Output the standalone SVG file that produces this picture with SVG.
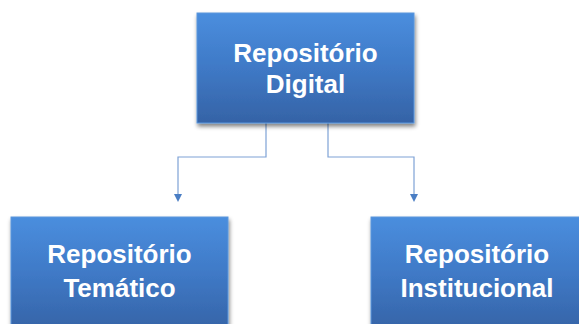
<svg xmlns="http://www.w3.org/2000/svg" width="579" height="324" viewBox="0 0 579 324">
<defs>
<linearGradient id="g" x1="0" y1="0" x2="0" y2="1">
<stop offset="0" stop-color="#4a8ede"/>
<stop offset="0.5" stop-color="#3f79c6"/>
<stop offset="1" stop-color="#3563a6"/>
</linearGradient>
<filter id="sh" x="-10%" y="-10%" width="120%" height="130%">
<feGaussianBlur in="SourceAlpha" stdDeviation="2"/>
<feOffset dx="1" dy="3" result="b"/>
<feComponentTransfer><feFuncA type="linear" slope="0.5"/></feComponentTransfer>
<feMerge><feMergeNode/><feMergeNode in="SourceGraphic"/></feMerge>
</filter>
<marker id="arr" markerWidth="8" markerHeight="8" refX="4" refY="4" orient="auto" markerUnits="userSpaceOnUse">
<path d="M0,0 L8,4 L0,8 Z" fill="#4a7ec4"/>
</marker>
</defs>
<style>
.box{fill:url(#g);stroke:#5b96dc;stroke-width:1;filter:url(#sh)}
.t{font-family:"Liberation Sans",Arial,sans-serif;font-weight:bold;font-size:26px;fill:#ffffff;text-anchor:middle}
.c{fill:none;stroke:#7ea2d6;stroke-width:1.2}
</style>
<g id="connectors">
<path class="c" d="M266,116 V157 H178 V198" marker-end="url(#arr)"/>
<path class="c" d="M328,116 V157 H414 V198" marker-end="url(#arr)"/>
</g>
<g id="digital">
<rect class="box" x="197" y="13" width="217" height="110"/>
<text class="t" x="305.5" y="62">Repositório</text>
<text class="t" x="305.5" y="93">Digital</text>
</g>
<g id="tematico">
<rect class="box" x="11" y="217" width="217" height="115"/>
<text class="t" x="119.5" y="263">Repositório</text>
<text class="t" x="119.5" y="297">Temático</text>
</g>
<g id="institucional">
<rect class="box" x="371" y="217" width="217" height="115"/>
<text class="t" x="477" y="263">Repositório</text>
<text class="t" x="477" y="297">Institucional</text>
</g>
</svg>
